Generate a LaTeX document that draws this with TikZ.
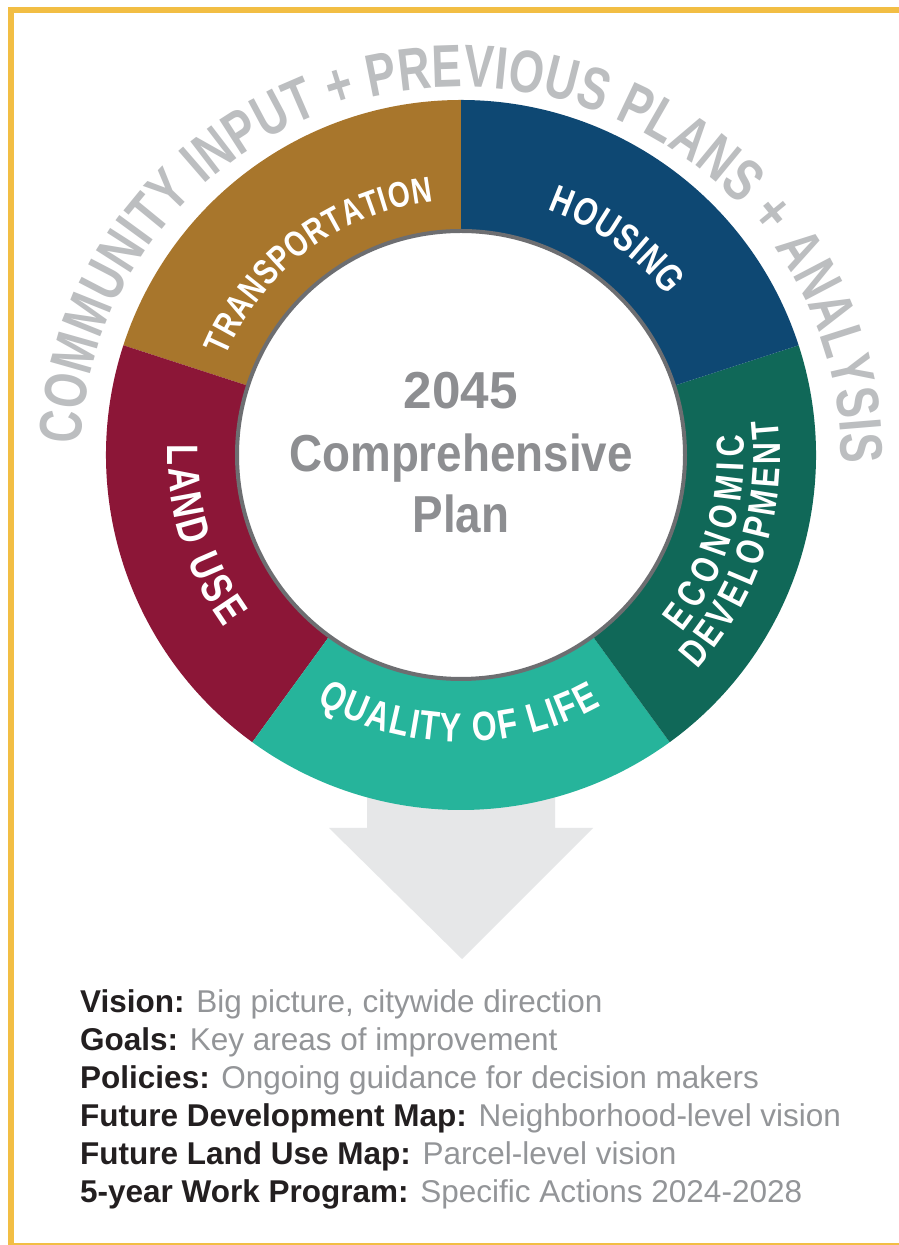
\documentclass[tikz,border=0pt]{standalone}
\usepackage{fontspec}
\setmainfont{Liberation Sans}
\newfontfamily\condA[FakeStretch=0.78]{Liberation Sans}
\newfontfamily\condO[FakeStretch=0.75]{Liberation Sans}
\newfontfamily\condB[FakeStretch=0.88]{Liberation Sans}
\usetikzlibrary{decorations.text,calc}
\definecolor{framegold}{HTML}{F2BE44}
\definecolor{transc}{HTML}{A8762C}
\definecolor{housec}{HTML}{0E4873}
\definecolor{econc}{HTML}{106858}
\definecolor{qolc}{HTML}{26B49B}
\definecolor{landc}{HTML}{8C1637}
\definecolor{arrowc}{HTML}{E6E7E8}
\definecolor{outerc}{HTML}{BCBEC0}
\definecolor{centerc}{HTML}{8D8E91}
\definecolor{ringline}{HTML}{6D6E71}
\definecolor{labelc}{HTML}{231F20}
\definecolor{descc}{HTML}{939598}
\newcommand\ringseg[3]{\fill[#3] ($(C)+(#1:355)$) arc[start angle=#1,end angle=#2,radius=355] -- ($(C)+(#2:224)$) arc[start angle=#2,end angle=#1,radius=224] -- cycle;}
\newcommand\rf[1]{\condA\fontsize{#1}{#1}\selectfont\bfseries}
\newcommand\of[1]{\condO\fontsize{#1}{#1}\selectfont\bfseries}
\begin{document}
\begin{tikzpicture}[x=1pt,y=1pt,
  centertxt/.style={anchor=base, inner sep=0, text=centerc, font=\condB\fontsize{52}{52}\selectfont\bfseries},
  listtxt/.style={anchor=base west, inner sep=0, font=\fontsize{31.5}{31.5}\selectfont},
  ringlabel/.style={decorate, decoration={text along path, text align={fit to path}, text color=white, text={#1}}}
]
\useasboundingbox (0,0) rectangle (899,1245);
\clip (0,0) rectangle (899,1245);
\fill[white] (0,0) rectangle (899,1245);
\draw[framegold, line width=6pt] (11,1235) rectangle (906,-1);
\coordinate (C) at (461,790);
\coordinate (OC) at (461,788);
% arrow
\fill[arrowc] (367,545) -- (367,417) -- (329,417) -- (462,286) -- (593,417) -- (555,417) -- (555,545) -- cycle;
% ring segments
\ringseg{90}{162}{transc}
\ringseg{162}{234}{landc}
\ringseg{234}{306}{qolc}
\ringseg{-54}{18}{econc}
\ringseg{18}{90}{housec}
\draw[ringline, line width=4pt, fill=white] (C) circle[radius=224];
% outer curved text
\path[decorate, decoration={text along path, text align={fit to path}, text color=outerc,
  text={|\of{60}|COMMUNITY INPUT + PREVIOUS PLANS + ANALYSIS}}]
  ($(OC)+(178:380 and 370)$) arc[start angle=178, end angle=-1, x radius=380, y radius=370];
% ring labels
\path[ringlabel={|\rf{36}|TRANSPORTATION}] ($(C)+(157.2:255)$) arc[start angle=157.2, end angle=96.3, radius=255];
\path[ringlabel={|\rf{39}|HOUSING}] ($(C)+(70.5:260)$) arc[start angle=70.5, end angle=37.7, radius=260];
\path[ringlabel={|\rf{44}|LAND USE}] ($(C)+(178:293)$) arc[start angle=178, end angle=216, radius=293];
\path[ringlabel={|\rf{41}|QUALITY OF LIFE}] ($(C)+(239.8:287)$) arc[start angle=239.8, end angle=299.2, radius=287];
\path[ringlabel={|\rf{39}|ECONOMIC}] ($(C)+(321.3:283)$) arc[start angle=321.3, end angle=364.2, radius=283];
\path[ringlabel={|\rf{39}|DEVELOPMENT}] ($(C)+(317.7:319)$) arc[start angle=317.7, end angle=366.3, radius=319];
% center text
\node[centertxt] (yr) at (461,836) {\scalebox{1.12}[1]{2045}};
\node[centertxt] (cp) at (461,773) {Comprehensive};
\node[centertxt] (pl) at (461,712) {Plan};
% list
\node[listtxt] (l1) at (80,232) {\textcolor{labelc}{\textbf{Vision:}} \textcolor{descc}{Big picture, citywide direction}};
\node[listtxt] (l2) at (80,194) {\textcolor{labelc}{\textbf{Goals:}} \textcolor{descc}{Key areas of improvement}};
\node[listtxt] (l3) at (80,156) {\textcolor{labelc}{\textbf{Policies:}} \textcolor{descc}{Ongoing guidance for decision makers}};
\node[listtxt] (l4) at (80,118) {\textcolor{labelc}{\textbf{Future Development Map:}} \textcolor{descc}{Neighborhood-level vision}};
\node[listtxt] (l5) at (80,80) {\textcolor{labelc}{\textbf{Future Land Use Map:}} \textcolor{descc}{Parcel-level vision}};
\node[listtxt] (l6) at (80,42) {\textcolor{labelc}{\textbf{5-year Work Program:}} \textcolor{descc}{Specific Actions 2024-2028}};
\end{tikzpicture}
\end{document}
